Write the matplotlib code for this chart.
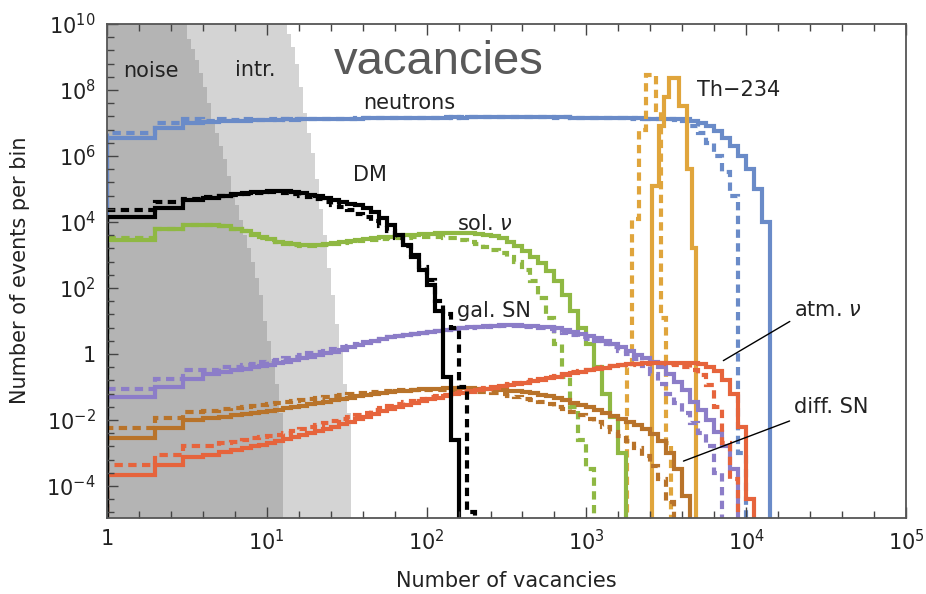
import numpy as np
import matplotlib.pyplot as plt
from matplotlib.ticker import FixedLocator, FuncFormatter, NullFormatter

# histogram bins: integer bins up to 10, then 0.05 decade bins up to 1e5
edges = np.concatenate([np.arange(1, 10), np.logspace(1, 5, 81)])

# all series are log10(events per bin), starting at the first bin
neutrons_solid = [6.55, 6.85, 7.0, 7.03, 7.05, 7.05, 7.07, 7.08, 7.08,
                  7.1, 7.1, 7.11, 7.1, 7.11, 7.12, 7.11, 7.12, 7.12, 7.13, 7.12, 7.13,
                  7.14, 7.14, 7.15, 7.14, 7.15, 7.15, 7.16, 7.15, 7.16, 7.16,
                  7.16, 7.17, 7.16, 7.17, 7.17, 7.17, 7.18, 7.17, 7.18, 7.18,
                  7.18, 7.18, 7.17, 7.18, 7.17, 7.17, 7.16, 7.16, 7.16, 7.15,
                  7.15, 7.15, 7.14, 7.14, 7.14, 7.13, 7.13, 7.13,
                  7.13, 7.12, 7.12, 7.05, 7.0, 6.9, 6.75, 6.55, 6.3, 6.0, 5.6, 5.0, 4.0]
neutrons_dashed = [6.7, 7.0, 7.12, 7.05, 7.12, 7.08, 7.12, 7.1, 7.1,
                   7.11, 7.1, 7.12, 7.11, 7.12, 7.11, 7.12, 7.13, 7.12, 7.13, 7.13, 7.14,
                   7.14, 7.15, 7.14, 7.15, 7.15, 7.16, 7.15, 7.16, 7.16, 7.16,
                   7.17, 7.16, 7.17, 7.17, 7.18, 7.17, 7.18, 7.18, 7.17, 7.18,
                   7.18, 7.17, 7.18, 7.17, 7.16, 7.17, 7.16, 7.15, 7.16, 7.15,
                   7.14, 7.15, 7.14, 7.13, 7.14, 7.13, 7.13, 7.12,
                   7.12, 7.1, 7.05, 6.9, 6.7, 6.4, 6.0, 5.5, 4.8, -3.0]

dm_solid = [4.15, 4.42, 4.67, 4.74, 4.8, 4.84, 4.87, 4.9, 4.92,
            4.94, 4.95, 4.94, 4.9, 4.87, 4.83, 4.79, 4.74, 4.68, 4.62,
            4.56, 4.5, 4.42, 4.3, 4.12, 3.9, 3.62, 3.3, 2.95, 2.55,
            2.1, 1.3, -0.7, -2.6]
dm_dashed = [4.36, 4.6, 4.7, 4.75, 4.8, 4.83, 4.86, 4.88, 4.89,
             4.9, 4.9, 4.88, 4.84, 4.8, 4.75, 4.7, 4.6, 4.53, 4.45,
             4.35, 4.25, 4.15, 4.02, 3.88, 3.72, 3.52, 3.28, 3.0, 2.65,
             2.25, 1.6, 1.2, 0.8, -1.0, -4.8]

sol_solid = [3.45, 3.78, 3.9, 3.92, 3.88, 3.8, 3.72, 3.64, 3.55,
             3.47, 3.4, 3.35, 3.32, 3.3, 3.3, 3.31, 3.33, 3.36, 3.39,
             3.42, 3.45, 3.48, 3.51, 3.54, 3.56, 3.58, 3.6, 3.62, 3.64,
             3.65, 3.66, 3.67, 3.67, 3.67, 3.66, 3.64, 3.61, 3.57, 3.5,
             3.4, 3.28, 3.12, 2.95, 2.75, 2.5, 2.2, 1.8, 1.3, 0.8,
             0.3, -0.4, -1.2, -1.9, -3.0]
sol_dashed = [3.5, 3.8, 3.9, 3.92, 3.88, 3.8, 3.72, 3.62, 3.53,
              3.45, 3.38, 3.33, 3.3, 3.28, 3.28, 3.29, 3.31, 3.33, 3.36,
              3.39, 3.42, 3.44, 3.46, 3.48, 3.5, 3.52, 3.53, 3.54, 3.55,
              3.55, 3.55, 3.53, 3.5, 3.45, 3.4, 3.33, 3.25, 3.15, 3.05,
              2.93, 2.8, 2.55, 2.2, 1.7, 1.1, 0.3, -0.7, -1.6, -2.6,
              -3.5]

galsn_solid = [-1.3, -1.0, -0.75, -0.62, -0.55, -0.5, -0.45, -0.4, -0.37,
               -0.33, -0.28, -0.23, -0.18, -0.13, -0.08, -0.03, 0.02, 0.07, 0.13,
               0.2, 0.27, 0.33, 0.39, 0.45, 0.5, 0.54, 0.58, 0.61, 0.64,
               0.67, 0.7, 0.73, 0.76, 0.79, 0.81, 0.83, 0.85, 0.86, 0.87,
               0.87, 0.87, 0.86, 0.85, 0.83, 0.81, 0.78, 0.73, 0.68, 0.62,
               0.55, 0.48, 0.4, 0.3, 0.2, 0.08, -0.02, -0.12, -0.25, -0.4,
               -0.6, -0.85, -1.1, -1.45, -1.7, -2.0, -2.35, -2.8, -3.5]
galsn_dashed = [-1.05, -0.75, -0.5, -0.48, -0.4, -0.38, -0.32, -0.3, -0.25,
                -0.22, -0.18, -0.13, -0.08, -0.03, 0.02, 0.06, 0.1, 0.15, 0.2,
                0.25, 0.3, 0.35, 0.4, 0.45, 0.5, 0.54, 0.58, 0.61, 0.64,
                0.67, 0.7, 0.73, 0.76, 0.78, 0.8, 0.82, 0.83, 0.84, 0.85,
                0.85, 0.84, 0.83, 0.81, 0.78, 0.75, 0.7, 0.65, 0.58, 0.5,
                0.45, 0.38, 0.3, 0.2, 0.1, 0.0, -0.15, -0.35, -0.6, -0.9,
                -1.2, -1.5, -1.8, -2.1, -2.4, -2.8, -3.6]

atm_solid = [-3.67, -3.36, -3.12, -3.05, -2.98, -2.92, -2.86, -2.8, -2.75,
             -2.7, -2.64, -2.58, -2.52, -2.46, -2.4, -2.34, -2.28, -2.2, -2.13,
             -2.06, -1.98, -1.9, -1.82, -1.74, -1.67, -1.6, -1.54, -1.48, -1.42,
             -1.37, -1.32, -1.27, -1.22, -1.18, -1.14, -1.1, -1.06, -1.02, -0.98,
             -0.95, -0.91, -0.87, -0.83, -0.79, -0.74, -0.69, -0.64, -0.59, -0.54,
             -0.49, -0.45, -0.41, -0.37, -0.34, -0.31, -0.29, -0.27, -0.26, -0.26,
             -0.26, -0.26, -0.26, -0.27, -0.3, -0.38, -0.52, -0.8, -1.2, -2.2, -4.4]
atm_dashed = [-3.36, -3.06, -2.8, -2.78, -2.7, -2.66, -2.6, -2.56, -2.52,
              -2.48, -2.44, -2.38, -2.32, -2.27, -2.22, -2.16, -2.1, -2.04, -1.98,
              -1.92, -1.85, -1.78, -1.71, -1.64, -1.58, -1.52, -1.46, -1.41, -1.36,
              -1.31, -1.27, -1.23, -1.19, -1.15, -1.11, -1.07, -1.03, -0.99, -0.96,
              -0.92, -0.88, -0.84, -0.8, -0.76, -0.71, -0.66, -0.61, -0.56, -0.51,
              -0.47, -0.43, -0.4, -0.37, -0.34, -0.32, -0.3, -0.29, -0.28, -0.28,
              -0.3, -0.34, -0.4, -0.5, -0.65, -0.95, -1.6, -2.7, -3.8]

diffsn_solid = [-2.55, -2.24, -2.0, -1.95, -1.9, -1.86, -1.82, -1.79, -1.76,
                -1.73, -1.69, -1.65, -1.61, -1.57, -1.53, -1.49, -1.45, -1.4, -1.36,
                -1.32, -1.28, -1.25, -1.22, -1.19, -1.16, -1.13, -1.11, -1.09, -1.07,
                -1.06, -1.05, -1.04, -1.04, -1.04, -1.04, -1.05, -1.06, -1.07, -1.09,
                -1.11, -1.13, -1.15, -1.19, -1.23, -1.28, -1.34, -1.4, -1.47, -1.54,
                -1.62, -1.7, -1.78, -1.87, -1.96, -2.05, -2.15, -2.27, -2.42, -2.65,
                -3.0, -3.5, -4.3]
diffsn_dashed = [-2.24, -1.94, -1.76, -1.72, -1.68, -1.64, -1.6, -1.57, -1.54,
                 -1.51, -1.48, -1.45, -1.42, -1.39, -1.36, -1.33, -1.3, -1.27, -1.24,
                 -1.21, -1.19, -1.17, -1.15, -1.13, -1.11, -1.1, -1.09, -1.08, -1.08,
                 -1.08, -1.08, -1.09, -1.1, -1.11, -1.12, -1.14, -1.16, -1.19, -1.22,
                 -1.26, -1.3, -1.35, -1.4, -1.46, -1.53, -1.6, -1.68, -1.77, -1.86,
                 -1.96, -2.07, -2.2, -2.35, -2.5, -2.65, -2.85, -3.1, -3.4, -3.8, -4.5]

# Th-234 peak has its own finer bins (log10 of edges)
th_solid_logx = [3.4125, 3.456, 3.4875, 3.519, 3.581, 3.631, 3.6625, 3.6875]
th_solid = [5.1, 6.9, 7.8, 8.36, 7.5, 5.6, 3.2]
th_dashed_logx = [3.256, 3.2875, 3.331, 3.375, 3.4375, 3.469, 3.5, 3.531]
th_dashed = [-0.4, 4.1, 6.8, 8.45, 7.4, 1.1, -2.7]

# shaded backgrounds (log10 edges / log10 heights)
noise_logx = [0, 0.5, 0.525, 0.55, 0.575, 0.6, 0.625, 0.65, 0.675, 0.7, 0.725, 0.75,
              0.775, 0.8, 0.825, 0.85, 0.875, 0.9, 0.925, 0.95, 0.975, 1.0, 1.025,
              1.05, 1.075, 1.1]
noise_logy = [10.3, 9.55, 9.25, 8.9, 8.5, 8.1, 7.6, 7.1, 6.7, 6.3, 5.9, 5.4, 4.9,
              4.5, 4.06, 3.6, 3.2, 2.8, 2.3, 1.8, 1.0, 0.4, -0.2, -0.9, -1.8]
intr_logx = [0, 1.125, 1.15, 1.175, 1.2, 1.225, 1.25, 1.275, 1.3, 1.325, 1.35,
             1.375, 1.4, 1.425, 1.45, 1.475, 1.5, 1.525]
intr_logy = [10.3, 9.7, 9.3, 8.8, 8.1, 7.3, 6.7, 6.1, 5.3, 4.4, 3.6, 2.6, 1.8,
             0.9, 0.1, -0.9, -1.8]

c_neu = '#6a8bc8'
c_sol = '#8fb843'
c_gal = '#8c7dc8'
c_dif = '#b8732a'
c_atm = '#e6643c'
c_th = '#e0a53c'
LW = 3.0
DASH = (0, (2.0, 1.3))

fig = plt.figure(figsize=(9.26, 5.94), dpi=100)
ax = fig.add_axes([107/926, 1-518/594, 799/926, 494/594])
ax.set_xscale('log')
ax.set_yscale('log')

ax.stairs(10**np.array(intr_logy), 10**np.array(intr_logx), baseline=1e-9,
          fill=True, color='#d4d4d4', lw=0, zorder=0)
ax.stairs(10**np.array(noise_logy), 10**np.array(noise_logx), baseline=1e-9,
          fill=True, color='#b4b4b4', lw=0, zorder=0)


def hist(vals, color, ls='-'):
    v = 10**np.array(vals)
    ax.stairs(v, edges[:len(v)+1], baseline=1e-9, color=color, lw=LW, linestyle=ls)


hist(neutrons_dashed, c_neu, DASH)
hist(neutrons_solid, c_neu)
ax.stairs(10**np.array(th_dashed), 10**np.array(th_dashed_logx), baseline=1e-9,
          color=c_th, lw=LW, linestyle=DASH)
ax.stairs(10**np.array(th_solid), 10**np.array(th_solid_logx), baseline=1e-9,
          color=c_th, lw=LW)
hist(sol_dashed, c_sol, DASH)
hist(sol_solid, c_sol)
hist(galsn_dashed, c_gal, DASH)
hist(galsn_solid, c_gal)
hist(diffsn_dashed, c_dif, DASH)
hist(diffsn_solid, c_dif)
hist(atm_dashed, c_atm, DASH)
hist(atm_solid, c_atm)
hist(dm_dashed, 'black', DASH)
hist(dm_solid, 'black')

ax.set_xlim(1, 1e5)
ax.set_ylim(10**-4.97, 1e10)


def fmt(v, pos):
    n = int(round(np.log10(v)))
    return '1' if n == 0 else '$10^{%d}$' % n


ax.xaxis.set_major_locator(FixedLocator(10.0**np.arange(0, 6)))
ax.xaxis.set_minor_locator(FixedLocator(10**np.arange(0, 5.01, 0.2)))
ax.yaxis.set_major_locator(FixedLocator(10.0**np.arange(-4, 11, 2)))
ax.yaxis.set_minor_locator(FixedLocator(10**np.arange(-4.8, 10.01, 0.4)))
ax.xaxis.set_major_formatter(FuncFormatter(fmt))
ax.yaxis.set_major_formatter(FuncFormatter(fmt))
ax.xaxis.set_minor_formatter(NullFormatter())
ax.yaxis.set_minor_formatter(NullFormatter())
ax.tick_params(which='both', direction='in', top=True, right=False,
               width=1, color='#444444', labelsize=15, labelcolor='#222222')
ax.tick_params(which='major', length=8)
ax.tick_params(which='minor', length=5)
ax.tick_params(axis='y', pad=8)
ax.tick_params(axis='x', pad=8)
for s in ax.spines.values():
    s.set_color('#555555')
    s.set_linewidth(1.3)

fig.text(506/926, 1-581/594, 'Number of vacancies', ha='center', va='center',
         fontsize=15, color='#222222')
fig.text(20/926, 1-270/594, 'Number of events per bin', ha='center', va='center',
         rotation=90, fontsize=15, color='#222222')

ax.text(0.4155, 0.899, 'vacancies', transform=ax.transAxes, ha='center',
        va='baseline', fontsize=34, color='#595959', family='Liberation Sans')

lab = dict(fontsize=15, color='#222222', va='center')
ax.text(1.26, 10**8.58, 'noise', ha='left', **lab)
ax.text(6.3, 10**8.6, 'intr.', ha='left', **lab)
ax.text(40, 10**7.6, 'neutrons', ha='left', **lab)
ax.text(44, 10**5.42, 'DM', ha='center', **lab)
ax.text(156, 10**3.94, r'sol. $\nu$', ha='left', **lab)
ax.text(156, 10**1.3, 'gal. SN', ha='left', **lab)
ax.text(4940, 10**8.0, 'Th\u2212234', ha='left', **lab)
ax.text(20000, 10**1.33, r'atm. $\nu$', ha='left', **lab)
ax.text(20000, 10**-1.6, 'diff. SN', ha='left', **lab)
ax.annotate('', xy=(6950, 0.57), xytext=(19400, 10.7),
            arrowprops=dict(arrowstyle='-', color='black', lw=1))
ax.annotate('', xy=(3900, 5.3e-4), xytext=(19400, 0.01),
            arrowprops=dict(arrowstyle='-', color='black', lw=1))

fig.savefig('out.png', dpi=100)
